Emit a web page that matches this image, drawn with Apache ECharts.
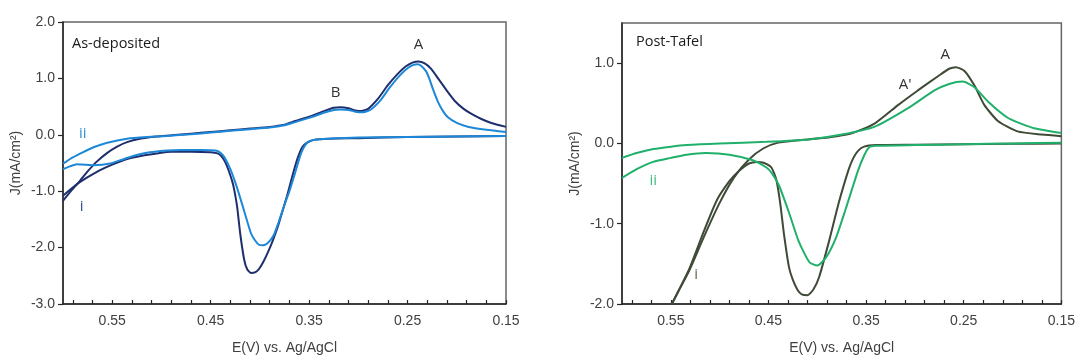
<!DOCTYPE html>
<html>
<head>
<meta charset="utf-8">
<script src="https://cdn.jsdelivr.net/npm/echarts@6/dist/echarts.min.js"></script>
<style>
html,body{margin:0;padding:0;background:#fff;}
#chart{width:1078px;height:360px;}
</style>
</head>
<body>
<div id="chart"></div>
<script>
// ---------- tick labels ----------
const xMajorTicks = [0.15, 0.25, 0.35, 0.45, 0.55];
const xMinorTicks = [0.17,0.19,0.21,0.23,0.27,0.29,0.31,0.33,0.37,0.39,0.41,0.43,0.47,0.49,0.51,0.53,0.57,0.59];
const leftYTicks = [-3, -2, -1, 0, 1, 2];
const rightYTicks = [-2, -1, 0, 1];

// ---------- As-deposited, curve i (dark navy) ----------
const asDepI_forward = [
  [0.600,-1.17],[0.592,-1.00],[0.583,-0.82],[0.575,-0.65],[0.566,-0.48],[0.555,-0.32],
  [0.545,-0.21],[0.535,-0.13],[0.522,-0.07],[0.505,-0.03],[0.490,-0.01],[0.470,0.02],
  [0.450,0.05],[0.430,0.08],[0.410,0.11],[0.390,0.14],[0.375,0.18],[0.365,0.24],
  [0.350,0.32],[0.335,0.42],[0.325,0.48],[0.318,0.49],[0.310,0.47],[0.303,0.43],
  [0.297,0.42],[0.290,0.46],[0.280,0.64],[0.270,0.88],[0.260,1.08],[0.252,1.21],
  [0.245,1.28],[0.239,1.30],[0.233,1.27],[0.226,1.17],[0.219,1.00],[0.210,0.78],
  [0.202,0.60],[0.193,0.46],[0.185,0.37],[0.175,0.28],[0.165,0.21],[0.150,0.14]
];
const asDepI_reverse = [
  [0.150,-0.02],[0.200,-0.03],[0.250,-0.04],[0.300,-0.06],[0.330,-0.07],[0.345,-0.09],
  [0.352,-0.14],[0.357,-0.22],[0.362,-0.43],[0.367,-0.73],[0.372,-1.06],[0.377,-1.35],
  [0.382,-1.64],[0.387,-1.88],[0.392,-2.09],[0.397,-2.27],[0.401,-2.38],[0.405,-2.44],
  [0.409,-2.45],[0.413,-2.38],[0.416,-2.21],[0.420,-1.75],[0.423,-1.29],[0.426,-0.98],
  [0.428,-0.83],[0.432,-0.62],[0.435,-0.49],[0.439,-0.38],[0.443,-0.33],[0.450,-0.31],
  [0.470,-0.30],[0.490,-0.30],[0.505,-0.33],[0.520,-0.37],[0.535,-0.43],[0.550,-0.53],
  [0.566,-0.66],[0.583,-0.84],[0.600,-1.08]
];

// ---------- As-deposited, curve ii (light blue) ----------
const asDepII_forward = [
  [0.600,-0.51],[0.590,-0.40],[0.580,-0.31],[0.569,-0.22],[0.555,-0.14],[0.535,-0.07],
  [0.515,-0.04],[0.494,-0.02],[0.470,0.01],[0.450,0.04],[0.430,0.07],[0.410,0.10],
  [0.390,0.13],[0.375,0.17],[0.365,0.22],[0.350,0.30],[0.335,0.39],[0.325,0.44],
  [0.318,0.45],[0.310,0.44],[0.303,0.41],[0.296,0.40],[0.288,0.44],[0.278,0.60],
  [0.268,0.84],[0.258,1.05],[0.250,1.18],[0.244,1.24],[0.240,1.25],[0.236,1.22],
  [0.231,1.12],[0.228,1.00],[0.224,0.80],[0.219,0.58],[0.214,0.42],[0.209,0.31],
  [0.200,0.21],[0.188,0.14],[0.170,0.09],[0.150,0.05]
];
const asDepII_reverse = [
  [0.150,-0.02],[0.200,-0.03],[0.250,-0.04],[0.300,-0.05],[0.330,-0.07],[0.345,-0.09],
  [0.352,-0.14],[0.358,-0.32],[0.365,-0.72],[0.370,-1.00],[0.376,-1.29],[0.381,-1.55],
  [0.386,-1.78],[0.392,-1.92],[0.397,-1.96],[0.401,-1.95],[0.405,-1.87],[0.409,-1.75],
  [0.416,-1.35],[0.423,-0.95],[0.430,-0.61],[0.436,-0.40],[0.440,-0.32],[0.445,-0.28],
  [0.460,-0.27],[0.480,-0.27],[0.494,-0.28],[0.515,-0.32],[0.535,-0.41],[0.552,-0.51],
  [0.569,-0.54],[0.578,-0.53],[0.586,-0.52],[0.593,-0.56],[0.600,-0.61]
];

// ---------- Post-Tafel, curve i (dark olive) ----------
const postI_forward = [
  [0.556,-2.15],[0.549,-2.00],[0.540,-1.79],[0.531,-1.58],[0.516,-1.16],[0.500,-0.74],
  [0.485,-0.42],[0.470,-0.20],[0.455,-0.06],[0.440,0.01],[0.420,0.04],[0.400,0.06],
  [0.380,0.09],[0.364,0.13],[0.341,0.25],[0.317,0.48],[0.297,0.66],[0.276,0.84],
  [0.265,0.93],[0.258,0.95],[0.249,0.90],[0.239,0.72],[0.229,0.48],[0.215,0.28],
  [0.195,0.15],[0.170,0.11],[0.150,0.09]
];
const postI_reverse = [
  [0.150,0.00],[0.200,-0.005],[0.250,-0.01],[0.300,-0.015],[0.340,-0.02],[0.352,-0.04],
  [0.358,-0.09],[0.363,-0.18],[0.368,-0.33],[0.378,-0.74],[0.388,-1.22],[0.398,-1.66],
  [0.404,-1.82],[0.410,-1.89],[0.416,-1.88],[0.420,-1.83],[0.425,-1.70],[0.429,-1.54],
  [0.434,-1.14],[0.438,-0.74],[0.442,-0.45],[0.447,-0.30],[0.455,-0.24],[0.462,-0.23],
  [0.470,-0.25],[0.480,-0.34],[0.490,-0.47],[0.503,-0.71],[0.517,-1.12],[0.531,-1.56],
  [0.549,-2.00],[0.556,-2.15]
];

// ---------- Post-Tafel, curve ii (green) ----------
const postII_forward = [
  [0.600,-0.18],[0.585,-0.12],[0.568,-0.07],[0.550,-0.04],[0.534,-0.02],[0.500,0.00],
  [0.452,0.02],[0.408,0.05],[0.375,0.11],[0.341,0.21],[0.307,0.44],[0.280,0.66],
  [0.265,0.74],[0.251,0.77],[0.239,0.70],[0.225,0.52],[0.205,0.32],[0.190,0.24],
  [0.178,0.19],[0.150,0.13]
];
const postII_reverse = [
  [0.150,0.01],[0.200,0.00],[0.250,-0.01],[0.300,-0.02],[0.340,-0.03],[0.347,-0.05],
  [0.352,-0.15],[0.358,-0.33],[0.371,-0.82],[0.381,-1.18],[0.391,-1.42],[0.400,-1.52],
  [0.408,-1.48],[0.419,-1.22],[0.429,-0.86],[0.439,-0.53],[0.446,-0.38],[0.452,-0.30],
  [0.466,-0.21],[0.490,-0.14],[0.514,-0.12],[0.534,-0.14],[0.550,-0.18],[0.568,-0.23],
  [0.585,-0.32],[0.600,-0.43]
];

// ---------- annotations (data coordinates) ----------
const leftNotes = [
  {text:'A', x:0.239, y:1.60, color:'#333333'},
  {text:'B', x:0.323, y:0.75, color:'#333333'},
  {text:'ii', x:0.580, y:0.02, color:'#2f8fd6'},
  {text:'i', x:0.581, y:-1.28, color:'#34508f'}
];
const rightNotes = [
  {text:'A', x:0.269, y:1.10, color:'#333333'},
  {text:"A'", x:0.310, y:0.73, color:'#333333'},
  {text:'ii', x:0.568, y:-0.47, color:'#3dbe7f'},
  {text:'i', x:0.524, y:-1.64, color:'#5b6a4d'}
];

const C_DARKBLUE = '#1f2f6e';
const C_LIGHTBLUE = '#1e88d8';
const C_DARKOLIVE = '#3f4a37';
const C_GREEN = '#21b06b';

const AXIS_COLOR = '#262626';
const LABEL_COLOR = '#404040';
const FONT = 'Liberation Sans';

function mainX(g) {
  return {
    type:'value', gridIndex:g, min:0.15, max:0.6, inverse:true, position:'bottom',
    axisLine:{show:true, onZero:false, lineStyle:{color:AXIS_COLOR, width:1.5}},
    axisTick:{show:true, customValues:xMinorTicks.concat(xMajorTicks), inside:true, length:4, lineStyle:{color:AXIS_COLOR, width:1.2}},
    axisLabel:{customValues:xMajorTicks, formatter:v=>v.toFixed(2), color:LABEL_COLOR, fontSize:14, fontFamily:FONT, margin:10},
    splitLine:{show:false},
    name:'E(V) vs. Ag/AgCl', nameLocation:'middle', nameGap:37,
    nameTextStyle:{color:LABEL_COLOR, fontSize:14, fontFamily:FONT}
  };
}
function yAx(g, min, max, ticks) {
  return {
    type:'value', gridIndex:g, min:min, max:max,
    axisLine:{show:true, onZero:false, lineStyle:{color:AXIS_COLOR, width:1.5}},
    axisTick:{show:true, customValues:ticks, inside:false, length:5, lineStyle:{color:AXIS_COLOR, width:1.2}},
    axisLabel:{customValues:ticks, formatter:v=>v.toFixed(1), color:LABEL_COLOR, fontSize:14, fontFamily:FONT, margin:8},
    splitLine:{show:false},
    name:'J(mA/cm²)', nameLocation:'middle', nameGap:40, nameRotate:90,
    nameTextStyle:{color:LABEL_COLOR, fontSize:14, fontFamily:FONT}
  };
}
function line(data, xi, yi, color, z) {
  return {
    type:'line', data:data, xAxisIndex:xi, yAxisIndex:yi, showSymbol:false, symbol:'none',
    smooth:0.2, clip:true, z:z, silent:true,
    lineStyle:{color:color, width:2}, itemStyle:{color:color}
  };
}

const chart = echarts.init(document.getElementById('chart'), null, {renderer:'canvas'});
chart.setOption({
  animation:false,
  backgroundColor:'#ffffff',
  grid:[
    {left:63, top:22, width:443, height:292, show:true, borderColor:'#666666', borderWidth:1.5, backgroundColor:'transparent'},
    {left:622, top:23, width:442, height:289, show:true, borderColor:'#666666', borderWidth:1.5, backgroundColor:'transparent'}
  ],
  xAxis:[ mainX(0), mainX(1) ],
  yAxis:[
    yAx(0, -3, 2, leftYTicks),
    yAx(1, -2, 1.5, rightYTicks)
  ],
  series:[
    line(asDepI_forward, 0, 0, C_DARKBLUE, 2),
    line(asDepI_reverse, 0, 0, C_DARKBLUE, 2),
    line(asDepII_forward, 0, 0, C_LIGHTBLUE, 3),
    line(asDepII_reverse, 0, 0, C_LIGHTBLUE, 3),
    line(postI_forward, 1, 1, C_DARKOLIVE, 2),
    line(postI_reverse, 1, 1, C_DARKOLIVE, 2),
    line(postII_forward, 1, 1, C_GREEN, 3),
    line(postII_reverse, 1, 1, C_GREEN, 3)
  ]
});

const graphics = [];
function addNotes(notes, g) {
  notes.forEach(n => {
    const p = chart.convertToPixel({gridIndex:g}, [n.x, n.y]);
    graphics.push({type:'text', x:p[0], y:p[1], z:10,
      style:{text:n.text, fill:n.color, font:'15px "Open Sans", sans-serif', textAlign:'center', textVerticalAlign:'middle'}});
  });
}
addNotes(leftNotes, 0);
addNotes(rightNotes, 1);
graphics.push({type:'text', x:72, y:44, z:10,
  style:{text:'As-deposited', fill:'#1a1a1a', font:'14.5px "Open Sans", sans-serif', textAlign:'left', textVerticalAlign:'middle'}});
graphics.push({type:'text', x:636, y:42, z:10,
  style:{text:'Post-Tafel', fill:'#1a1a1a', font:'14.5px "Open Sans", sans-serif', textAlign:'left', textVerticalAlign:'middle'}});
chart.setOption({graphic:graphics});
</script>
</body>
</html>
